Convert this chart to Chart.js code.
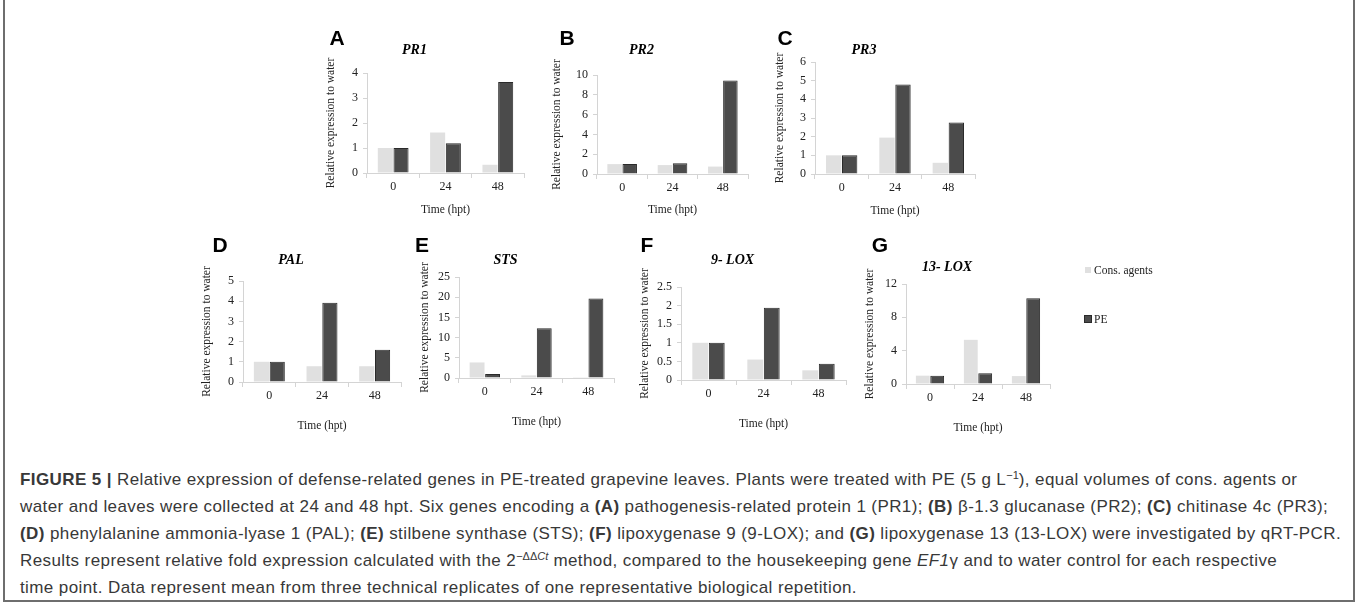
<!DOCTYPE html>
<html>
<head>
<meta charset="utf-8">
<script src="https://cdn.jsdelivr.net/npm/chart.js@4.4.1/dist/chart.umd.min.js"></script>
<style>
  html, body { margin: 0; padding: 0; background: #fff; }
  body { width: 1358px; height: 602px; position: relative; overflow: hidden; font-family: "Liberation Sans", Arial, sans-serif; }
  .frame { position: absolute; left: 3px; top: -4px; width: 1348px; height: 602px; border: 2px solid #6e6e6e; }
  canvas { position: absolute; }
  .letter { position: absolute; font: bold 21px "Liberation Sans", Arial, sans-serif; color: #000; transform: translate(-50%, -50%); }
  .legend { position: absolute; font: 11.5px "Liberation Serif", serif; color: #222; white-space: nowrap; }
  .legend .sw { display: inline-block; width: 6px; height: 6px; margin-right: 3px; vertical-align: 1px; }
  .caption { position: absolute; left: 20px; top: 466px; font-size: 17px; letter-spacing: 0.4px; line-height: 27px; color: #383838; white-space: nowrap; }
  .caption sup { font-size: 11px; letter-spacing: 0; line-height: 0; vertical-align: 6px; }
</style>
</head>
<body>
<div class="frame"></div>
<div id="figure"></div>
<div class="caption">
  <b>FIGURE 5 |</b> Relative expression of defense-related genes in PE-treated grapevine leaves. Plants were treated with PE (5 g L<sup>−1</sup>), equal volumes of cons. agents or<br>
  water and leaves were collected at 24 and 48 hpt. Six genes encoding a <b>(A)</b> pathogenesis-related protein 1 (PR1); <b>(B)</b> β-1.3 glucanase (PR2); <b>(C)</b> chitinase 4c (PR3);<br>
  <b>(D)</b> phenylalanine ammonia-lyase 1 (PAL); <b>(E)</b> stilbene synthase (STS); <b>(F)</b> lipoxygenase 9 (9-LOX); and <b>(G)</b> lipoxygenase 13 (13-LOX) were investigated by qRT-PCR.<br>
  Results represent relative fold expression calculated with the 2<sup>−ΔΔ<i>Ct</i></sup> method, compared to the housekeeping gene <i>EF1</i>γ and to water control for each respective<br>
  time point. Data represent mean from three technical replicates of one representative biological repetition.
</div>
<script>
const times = ["0", "24", "48"];
const seriesNames = ["Cons. agents", "PE"];

const consPR1 = [1.0, 1.62, 0.33];
const pePR1 = [1.0, 1.19, 3.64];
const consPR2 = [1.0, 0.9, 0.75];
const pePR2 = [1.0, 1.08, 9.45];
const consPR3 = [1.0, 1.95, 0.6];
const pePR3 = [1.0, 4.8, 2.76];
const consPAL = [1.0, 0.78, 0.78];
const pePAL = [1.0, 3.92, 1.6];
const consSTS = [3.85, 0.65, 0.2];
const peSTS = [1.0, 12.3, 19.7];
const cons9LOX = [1.0, 0.55, 0.26];
const pe9LOX = [1.0, 1.94, 0.44];
const cons13LOX = [1.0, 5.3, 0.95];
const pe13LOX = [1.0, 1.3, 10.3];

const colors = { cons: "#e0e0e0", pe: "#4b4b4b" };
const serif = "'Liberation Serif', 'Times New Roman', serif";

// box = [axis x, y of top tick, right end, y of zero]; yt = y title distance left of axis;
// tx = title shift; xt = distance of "Time (hpt)" under the axis
const panels = [
  { letter: "A", gene: "PR1", cons: consPR1, pe: pePR1, max: 4, step: 1, box: [367, 73, 524, 173], titleY: 50, yt: 36, tx: -12, xt: 37 },
  { letter: "B", gene: "PR2", cons: consPR2, pe: pePR2, max: 10, step: 2, box: [597, 75, 748, 174], titleY: 50, yt: 40, tx: -4, xt: 36 },
  { letter: "C", gene: "PR3", cons: consPR3, pe: pePR3, max: 6, step: 1, box: [815, 62, 975, 174], titleY: 50, yt: 35, tx: 0, xt: 37 },
  { letter: "D", gene: "PAL", cons: consPAL, pe: pePAL, max: 5, step: 1, box: [243, 281, 401, 382], titleY: 260, yt: 36, tx: 0, xt: 44 },
  { letter: "E", gene: "STS", cons: consSTS, pe: peSTS, max: 25, step: 5, box: [459, 277, 614, 378], titleY: 260, yt: 34, tx: 0, xt: 44 },
  { letter: "F", gene: "9- LOX", cons: cons9LOX, pe: pe9LOX, max: 2.5, step: 0.5, box: [681, 287, 846, 380], titleY: 260, yt: 36, tx: 0, xt: 44 },
  { letter: "G", gene: "13- LOX", cons: cons13LOX, pe: pe13LOX, max: 12, step: 2, box: [906, 284, 1050, 384], titleY: 267, yt: 36, tx: 10, xt: 44 },
];

const letterPos = {
  A: [337, 38], B: [567, 38], C: [785, 38],
  D: [220, 245], E: [422, 245], F: [647, 245], G: [880, 245],
};

const fig = document.getElementById("figure");
const W = 62;      // room left of the axis
const H = 56;      // room under the axis
const titleSize = 14;
const axisTitleSize = 11.5;

panels.forEach((p) => {
  const [x0, y0, x1, y1] = p.box;
  const top = p.titleY - 12;
  const lh = titleSize * 1.2;
  const padTop = p.titleY - top - lh / 2;
  const padBottom = Math.max(0, y0 - top - padTop - lh);
  const right = W + 2 * p.tx;

  const canvas = document.createElement("canvas");
  canvas.width = W + (x1 - x0) + right;
  canvas.height = (y1 - top) + H;
  canvas.style.left = (x0 - W) + "px";
  canvas.style.top = top + "px";
  fig.appendChild(canvas);

  const l = document.createElement("div");
  l.className = "letter";
  l.textContent = p.letter;
  l.style.left = letterPos[p.letter][0] + "px";
  l.style.top = letterPos[p.letter][1] + "px";
  fig.appendChild(l);

  new Chart(canvas.getContext("2d"), {
    type: "bar",
    data: {
      labels: times,
      datasets: [
        { label: seriesNames[0], data: p.cons, backgroundColor: colors.cons, borderWidth: 0 },
        { label: seriesNames[1], data: p.pe, backgroundColor: colors.pe, borderColor: "#2a2a2a", borderWidth: 1 },
      ],
    },
    options: {
      responsive: false,
      animation: false,
      layout: { padding: { left: 0, right: right, top: 0, bottom: 0 } },
      datasets: { bar: { categoryPercentage: 0.6, barPercentage: 0.96 } },
      plugins: {
        legend: { display: false },
        tooltip: { enabled: false },
        title: {
          display: true,
          text: p.gene,
          color: "#000",
          font: { family: serif, size: titleSize, style: "italic", weight: "bold" },
          padding: { top: padTop, bottom: padBottom },
        },
      },
      scales: {
        x: {
          afterFit: (s) => { s.height = H; },
          border: { display: true, color: "#d4d4d4" },
          grid: { display: true, offset: true, drawOnChartArea: false, drawTicks: true, tickLength: 5, color: "#d4d4d4" },
          ticks: { color: "#222", font: { family: serif, size: 12 }, padding: 2 },
          title: {
            display: true,
            text: "Time (hpt)",
            color: "#222",
            font: { family: serif, size: axisTitleSize },
            padding: { top: 0, bottom: H - p.xt - axisTitleSize * 0.6 },
          },
        },
        y: {
          min: 0,
          max: p.max,
          afterFit: (s) => { s.width = W; },
          border: { display: true, color: "#d4d4d4" },
          grid: { display: true, drawOnChartArea: false, drawTicks: true, tickLength: 4, color: "#d4d4d4" },
          ticks: { stepSize: p.step, color: "#222", font: { family: serif, size: 12 }, padding: 5, callback: (v) => String(v) },
          title: {
            display: true,
            text: "Relative expression to water",
            color: "#222",
            font: { family: serif, size: axisTitleSize },
            padding: { top: W - p.yt - axisTitleSize * 0.6, bottom: 0 },
          },
        },
      },
    },
  });
});

// legend
const legendRows = [[1085, 272], [1085, 321]];
seriesNames.forEach((name, i) => {
  const d = document.createElement("div");
  d.className = "legend";
  d.style.left = legendRows[i][0] + "px";
  d.style.top = (legendRows[i][1] - 8) + "px";
  const sw = document.createElement("span");
  sw.className = "sw";
  sw.style.background = i === 0 ? colors.cons : colors.pe;
  if (i === 1) sw.style.outline = "1px solid #2a2a2a";
  d.appendChild(sw);
  d.appendChild(document.createTextNode(name));
  fig.appendChild(d);
});
</script>
</body>
</html>
